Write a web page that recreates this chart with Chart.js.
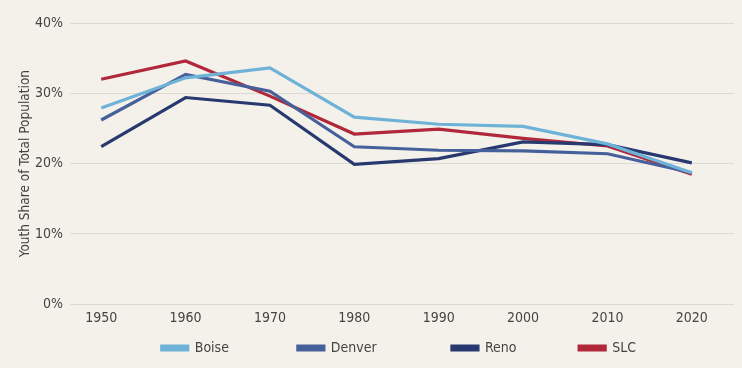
<!DOCTYPE html>
<html>
<head>
<meta charset="utf-8">
<script src="https://cdn.jsdelivr.net/npm/chart.js@4"></script>
<style>
  html, body { margin: 0; padding: 0; background: #f4f1eb; }
  #wrap { width: 742px; height: 368px; }
</style>
</head>
<body>
<div id="wrap"><canvas id="youthChart"></canvas></div>
<script>
const years = [1950, 1960, 1970, 1980, 1990, 2000, 2010, 2020];
const boise = [27.9, 32.2, 33.6, 26.6, 25.6, 25.3, 22.8, 18.7];
const denver = [26.2, 32.7, 30.3, 22.4, 21.9, 21.8, 21.4, 18.7];
const reno = [22.4, 29.4, 28.3, 19.9, 20.7, 23.1, 22.7, 20.1];
const slc = [32.0, 34.6, 29.6, 24.2, 24.9, 23.6, 22.5, 18.5];
const yTicks = [0, 10, 20, 30, 40];
// extra en-spaces after each legend name, to spread the items like the original
const legendGaps = [10, 11, 9, 1];

const FONT = "'Liberation Sans Narrow', 'DejaVu Sans Condensed', sans-serif";

function series(label, values, color) {
  return {
    label,
    data: years.map((y, i) => ({ x: y, y: values[i] })),
    borderColor: color,
    backgroundColor: color,
    borderWidth: 3.2,
    pointRadius: 0,
    tension: 0,
  };
}

new Chart(document.getElementById("youthChart").getContext("2d"), {
  type: "line",
  data: {
    datasets: [
      series("Boise", boise, "#6eb3d7"),
      series("Denver", denver, "#46609b"),
      series("Reno", reno, "#27396f"),
      series("SLC", slc, "#b0283a"),
    ],
  },
  options: {
    responsive: true,
    maintainAspectRatio: false,
    animation: false,
    layout: { padding: { top: 23, right: 8, left: 17, bottom: 3 } },
    plugins: {
      tooltip: { enabled: false },
      legend: {
        position: "bottom",
        fullSize: false,
        labels: {
          font: { family: FONT, size: 14 },
          color: "#444",
          boxWidth: 26,
          boxHeight: 4,
          padding: 6,
          generateLabels: (chart) => {
            const items = Chart.defaults.plugins.legend.labels.generateLabels(chart);
            items.forEach((it, i) => { it.text = it.text + "\u2002".repeat(legendGaps[i]); });
            return items;
          },
        },
      },
    },
    scales: {
      x: {
        type: "linear",
        min: 1946.3,
        max: 2025,
        afterBuildTicks: (s) => { s.ticks = years.map((v) => ({ value: v })); },
        afterFit: (s) => { s.height += 2; },
        grid: { display: false, drawTicks: false, tickLength: 0 },
        border: { display: false },
        ticks: {
          font: { family: FONT, size: 14 },
          color: "#444",
          padding: 6,
          callback: (v) => String(v),
        },
      },
      y: {
        min: 0,
        max: 40,
        afterBuildTicks: (s) => { s.ticks = yTicks.map((v) => ({ value: v })); },
        afterFit: (s) => { s.width = 53; },
        grid: { color: "#dcd9d4", lineWidth: 1, drawTicks: false, tickLength: 0 },
        border: { display: false },
        ticks: {
          font: { family: FONT, size: 14 },
          color: "#444",
          padding: 7,
          callback: (v) => v + "%",
        },
        title: {
          display: true,
          text: "Youth Share of Total Population",
          font: { family: FONT, size: 13.5 },
          color: "#444",
          padding: { top: 0, bottom: 4 },
        },
      },
    },
  },
});
</script>
</body>
</html>
